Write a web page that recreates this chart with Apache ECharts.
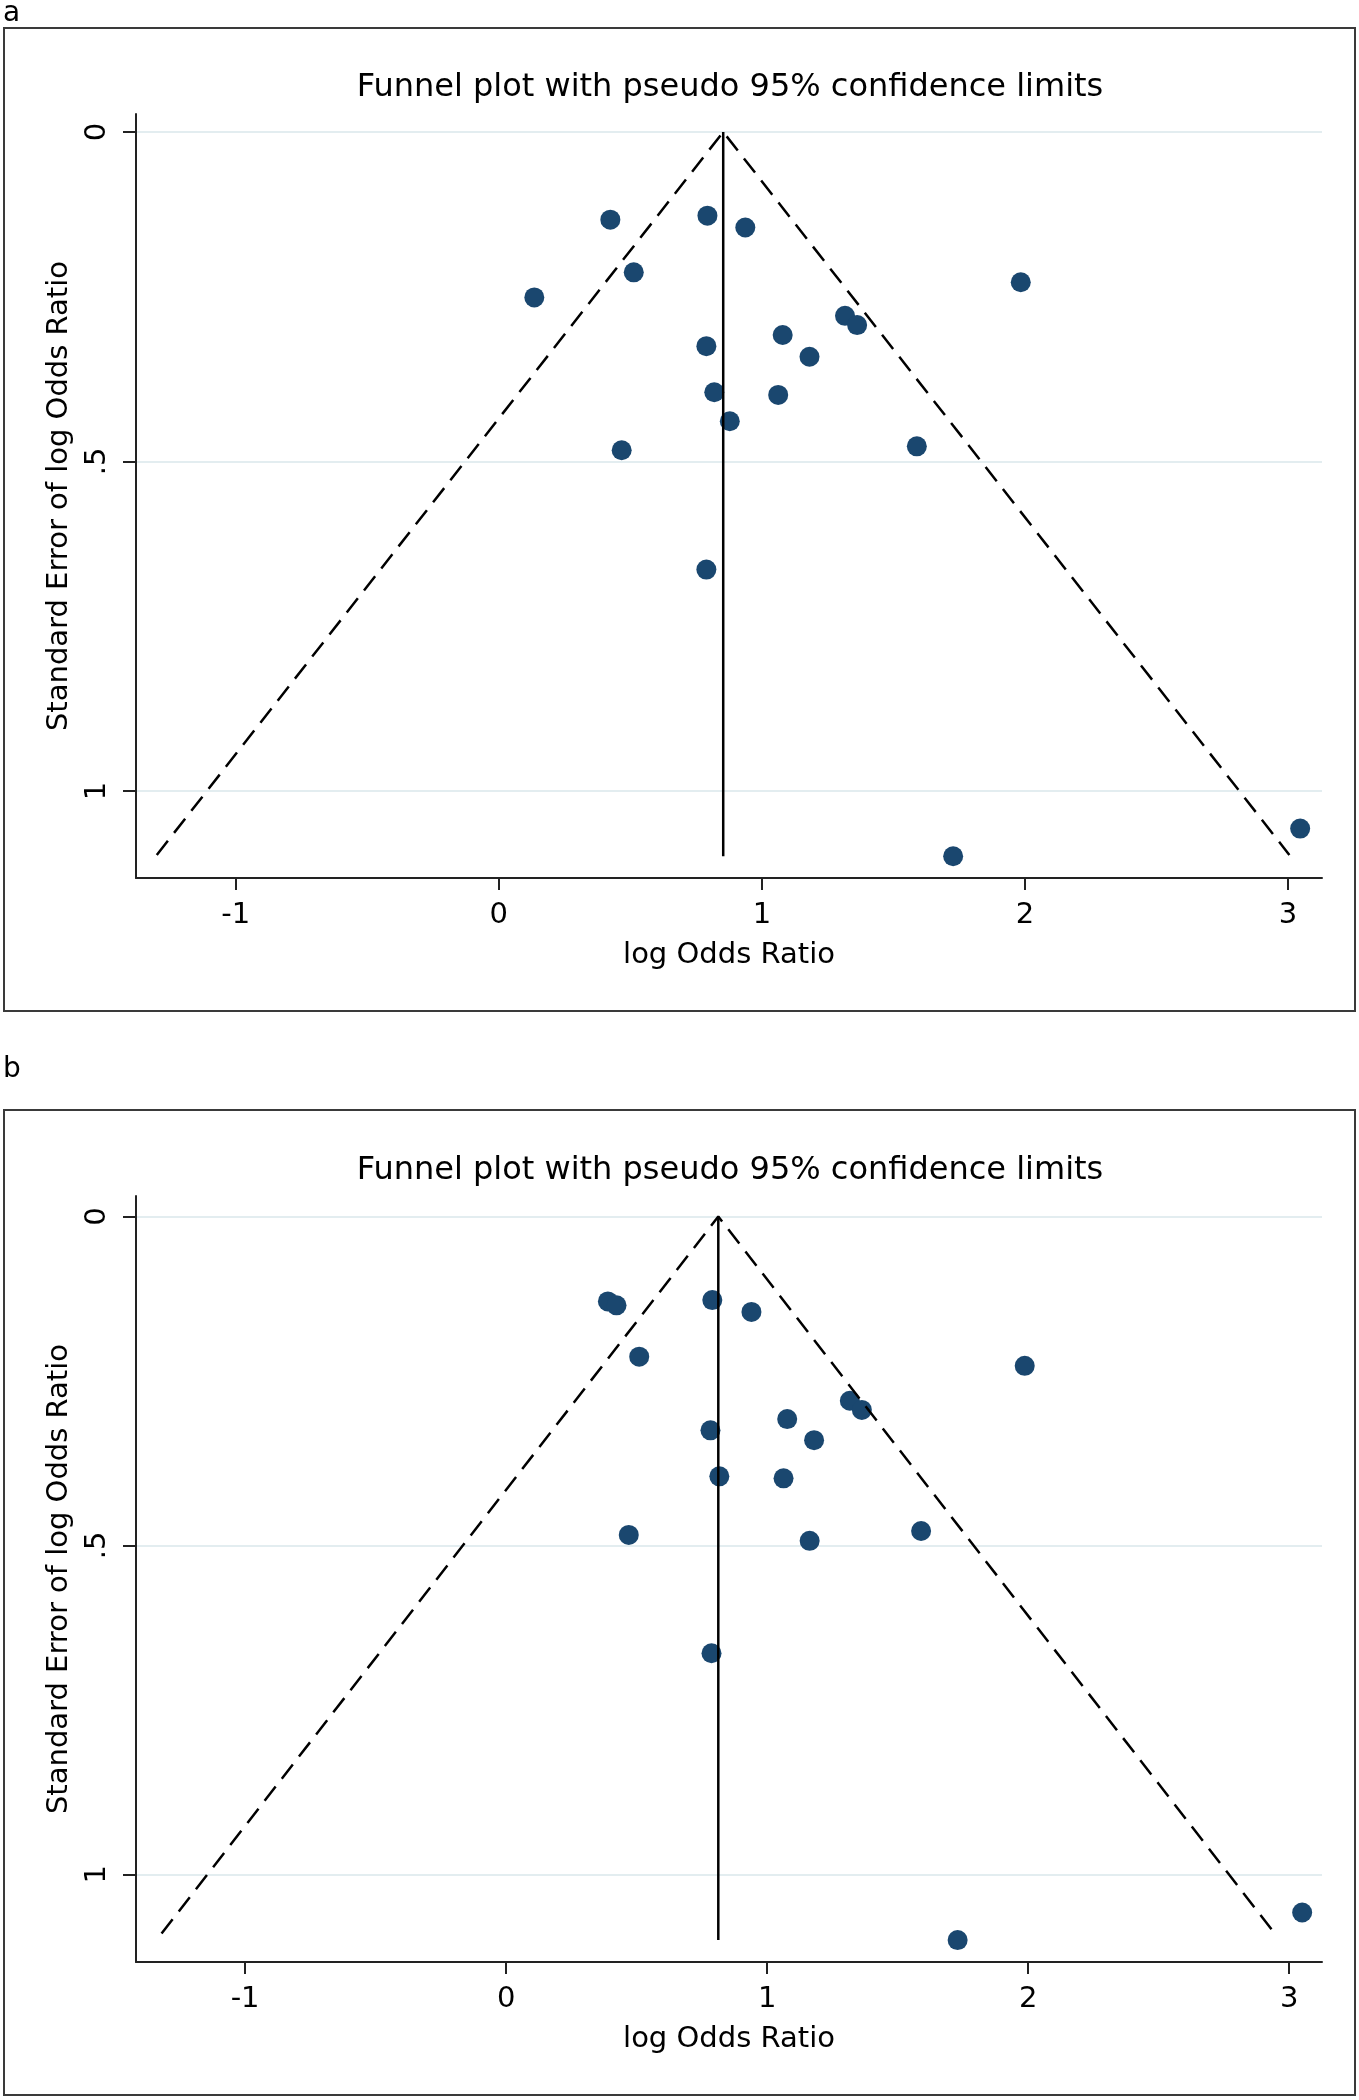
<!DOCTYPE html>
<html lang="en">
<head>
<meta charset="UTF-8">
<title>Funnel plots</title>
<style>
  body { margin: 0; background: #fff; }
  #chart { width: 1359px; height: 2100px; }
</style>
<script src="https://cdn.jsdelivr.net/npm/echarts@6/dist/echarts.min.js"></script>
</head>
<body>
<div id="chart"></div>
<script>
  // panel a: study estimates
  var logOrA = [0.424, 0.793, 0.937, 0.513, 0.135, 1.984, 1.316, 1.362, 1.079, 0.789,
                1.181, 0.819, 1.062, 0.878, 0.467, 1.589, 0.789, 1.727, 3.046];
  var seA    = [0.133, 0.127, 0.145, 0.213, 0.251, 0.228, 0.279, 0.293, 0.308, 0.325,
                0.341, 0.395, 0.399, 0.439, 0.483, 0.477, 0.664, 1.099, 1.057];
  // panel b: study estimates
  var logOrB = [0.390, 0.423, 0.790, 0.940, 0.510, 1.987, 1.317, 1.363, 1.077, 0.783,
                1.180, 0.817, 1.063, 0.470, 1.163, 1.590, 0.787, 1.730, 3.050];
  var seB    = [0.129, 0.135, 0.127, 0.145, 0.213, 0.227, 0.280, 0.294, 0.308, 0.325,
                0.340, 0.395, 0.398, 0.484, 0.493, 0.478, 0.664, 1.100, 1.058];

  // pooled estimate line and pseudo 95% limits
  var pooledA = [[0.853, 0], [0.853, 1.099]];
  var limitsA = [[-1.30, 1.097], [0.853, 0], [3.005, 1.097]];
  var pooledB = [[0.813, 0], [0.813, 1.100]];
  var limitsB = [[-1.32, 1.090], [0.813, 0], [2.945, 1.090]];

  var xTicks = [-1, 0, 1, 2, 3];
  var yTicks = [0, 0.5, 1];
  var titleText = 'Funnel plot with pseudo 95% confidence limits';

  var font = 'DejaVu Sans';
  var ink = '#000';

  function pairs(xs, ys) {
    return xs.map(function (x, i) { return [x, ys[i]]; });
  }

  function xAxisFor(idx, min, max) {
    return {
      gridIndex: idx, type: 'value', min: min, max: max,
      axisLine: { show: true, onZero: false, lineStyle: { color: '#222', width: 2 } },
      axisTick: { show: true, length: 12, customValues: xTicks, lineStyle: { color: '#222', width: 2 } },
      axisLabel: { customValues: xTicks, margin: 23, fontSize: 29, color: ink, fontFamily: font },
      splitLine: { show: false },
      name: 'log Odds Ratio', nameLocation: 'middle', nameGap: 63,
      nameTextStyle: { fontSize: 29, color: ink, fontFamily: font }
    };
  }

  function yAxisFor(idx, min, max) {
    return {
      gridIndex: idx, type: 'value', inverse: true, min: min, max: max,
      axisLine: { show: true, onZero: false, lineStyle: { color: '#222', width: 2 } },
      axisTick: { show: true, length: 13, customValues: yTicks, lineStyle: { color: '#222', width: 2 } },
      axisLabel: {
        customValues: yTicks, rotate: 90, margin: 24, fontSize: 29, color: ink, fontFamily: font,
        formatter: function (v) { return v === 0.5 ? '.5' : String(v); }
      },
      splitLine: { show: true, lineStyle: { color: '#e3edf0', width: 2 } },
      name: 'Standard Error of log Odds Ratio', nameLocation: 'middle', nameGap: 62,
      nameTextStyle: { fontSize: 29, color: ink, fontFamily: font }
    };
  }

  function panelSeries(idx, pts, pooled, limits) {
    return [
      {
        type: 'scatter', xAxisIndex: idx, yAxisIndex: idx, data: pts,
        symbol: 'circle', symbolSize: 20, itemStyle: { color: '#1a476f', opacity: 1 }, z: 2
      },
      {
        type: 'line', xAxisIndex: idx, yAxisIndex: idx, data: pooled,
        symbol: 'none', lineStyle: { color: '#000', width: 2.5 }, z: 3
      },
      {
        type: 'line', xAxisIndex: idx, yAxisIndex: idx, data: limits,
        symbol: 'none', lineStyle: { color: '#000', width: 2.5, type: [18, 10] }, z: 3
      }
    ];
  }

  var chart = echarts.init(document.getElementById('chart'), null, { renderer: 'canvas' });

  var option = {
    animation: false,
    backgroundColor: '#fff',
    title: [
      { text: titleText, left: 730, top: 72, textAlign: 'center', padding: 0,
        textStyle: { fontSize: 32, fontWeight: 'normal', color: '#000', fontFamily: font } },
      { text: titleText, left: 730, top: 1155, textAlign: 'center', padding: 0,
        textStyle: { fontSize: 32, fontWeight: 'normal', color: '#000', fontFamily: font } },
      { text: 'a', left: 3, top: 0, padding: 0,
        textStyle: { fontSize: 28, fontWeight: 'normal', color: '#000', fontFamily: font } },
      { text: 'b', left: 3, top: 1056, padding: 0,
        textStyle: { fontSize: 28, fontWeight: 'normal', color: '#000', fontFamily: font } }
    ],
    graphic: [
      { type: 'rect', silent: true, shape: { x: 4, y: 28, width: 1351, height: 983 },
        style: { fill: 'none', stroke: '#3a3a3a', lineWidth: 2 } },
      { type: 'rect', silent: true, shape: { x: 4, y: 1110, width: 1351, height: 985 },
        style: { fill: 'none', stroke: '#3a3a3a', lineWidth: 2 } }
    ],
    grid: [
      { left: 136, top: 114, width: 1186, height: 764 },
      { left: 136, top: 1196, width: 1186, height: 766 }
    ],
    xAxis: [xAxisFor(0, -1.379, 3.129), xAxisFor(1, -1.418, 3.126)],
    yAxis: [yAxisFor(0, -0.0273, 1.132), yAxisFor(1, -0.0312, 1.1333)],
    series: panelSeries(0, pairs(logOrA, seA), pooledA, limitsA)
      .concat(panelSeries(1, pairs(logOrB, seB), pooledB, limitsB))
  };

  chart.setOption(option);
</script>
</body>
</html>
